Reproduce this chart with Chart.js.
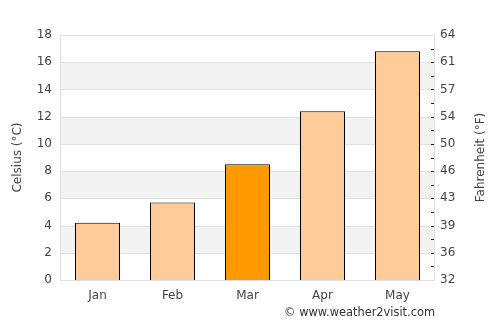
<!DOCTYPE html>
<html>
<head>
<meta charset="utf-8">
<script src="https://cdn.jsdelivr.net/npm/chart.js@4/dist/chart.umd.min.js"></script>
<style>
  html, body { margin: 0; padding: 0; background: #fff; }
  #wrap { width: 500px; height: 325px; }
</style>
</head>
<body>
<div id="wrap"><canvas id="myChart" width="500" height="325"></canvas></div>
<script>
// data
const months = ['Jan', 'Feb', 'Mar', 'Apr', 'May'];
const celsius = [4.2, 5.7, 8.5, 12.4, 16.8];
const highlight = 2; // Mar
const celsiusTicks = [0, 2, 4, 6, 8, 10, 12, 14, 16, 18];
const fahrenheitTicks = [32, 36, 39, 43, 46, 50, 54, 57, 61, 64];

const barColors = months.map((m, i) => i === highlight ? '#ff9900' : '#ffcc99');
const font = { family: 'DejaVu Sans', size: 12 };

// grey bands every other step + small inner ticks on the right axis + footer
const extras = {
  id: 'extras',
  beforeDatasetsDraw(chart) {
    const { ctx, chartArea: a, scales: { y } } = chart;
    ctx.save();
    ctx.fillStyle = '#f2f2f2';
    for (let i = 1; i < celsiusTicks.length - 1; i += 2) {
      const top = y.getPixelForValue(celsiusTicks[i + 1]);
      const bot = y.getPixelForValue(celsiusTicks[i]);
      ctx.fillRect(a.left, top, a.right - a.left, bot - top);
    }
    ctx.strokeStyle = '#e0e0e0';
    ctx.lineWidth = 1;
    celsiusTicks.forEach(v => {
      const p = Math.round(y.getPixelForValue(v)) + 0.5;
      ctx.beginPath(); ctx.moveTo(a.left, p); ctx.lineTo(a.right, p); ctx.stroke();
    });
    ctx.strokeRect(a.left + 0.5, a.top + 0.5, a.right - a.left - 1, a.bottom - a.top);
    ctx.restore();
  },
  afterDraw(chart) {
    const { ctx, chartArea: a, scales: { y } } = chart;
    ctx.save();
    ctx.strokeStyle = '#222';
    ctx.lineWidth = 1;
    for (let v = 1; v < 18; v++) {
      const p = Math.round(y.getPixelForValue(v)) + 0.5;
      ctx.beginPath(); ctx.moveTo(a.right - 4, p); ctx.lineTo(a.right - 1, p); ctx.stroke();
    }
    // right axis title reads bottom to top like the left one
    ctx.fillStyle = '#444';
    ctx.font = '12px "DejaVu Sans"';
    ctx.textAlign = 'center';
    ctx.textBaseline = 'middle';
    ctx.translate(481, (a.top + a.bottom) / 2);
    ctx.rotate(-Math.PI / 2);
    ctx.fillText('Fahrenheit (°F)', 0, 0);
    ctx.restore();

    ctx.save();
    ctx.fillStyle = '#333';
    ctx.font = '11.4px "DejaVu Sans"';
    ctx.textAlign = 'right';
    ctx.textBaseline = 'middle';
    ctx.fillText('© www.weather2visit.com', a.right, 313);
    ctx.restore();
  }
};

new Chart(document.getElementById('myChart'), {
  type: 'bar',
  data: {
    labels: months,
    datasets: [{
      data: celsius,
      backgroundColor: barColors,
      borderColor: '#000',
      borderWidth: 1,
      barPercentage: 0.6,
      categoryPercentage: 1
    }]
  },
  options: {
    responsive: false,
    animation: false,
    layout: { padding: { top: 35, right: 0, left: 0, bottom: 0 } },
    plugins: { legend: { display: false }, tooltip: { enabled: false } },
    scales: {
      x: {
        grid: { display: false, drawTicks: false },
        border: { display: false },
        ticks: { color: '#444', font: font, padding: 9 },
        afterFit(s) { s.height = 45; }
      },
      y: {
        position: 'left',
        min: 0, max: 18,
        grid: { display: false, drawTicks: false },
        border: { display: false },
        ticks: { stepSize: 2, color: '#444', font: font, padding: 8 },
        title: { display: true, text: 'Celsius (°C)', color: '#444', font: font, padding: { top: 11, bottom: 0 } },
        afterFit(s) { s.width = 60; }
      },
      y2: {
        position: 'right',
        min: 0, max: 18,
        grid: { display: false, drawTicks: false },
        border: { display: false },
        ticks: {
          stepSize: 2, color: '#444', font: font, padding: 5,
          callback: (v) => fahrenheitTicks[celsiusTicks.indexOf(v)]
        },
        afterFit(s) { s.width = 65; }
      }
    }
  },
  plugins: [extras]
});
</script>
</body>
</html>
